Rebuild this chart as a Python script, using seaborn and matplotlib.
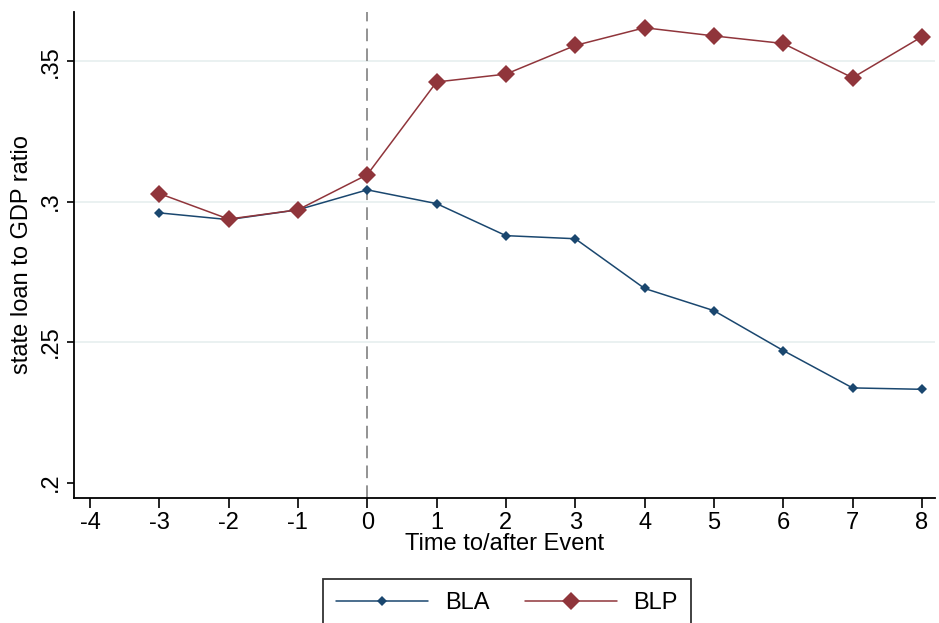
import matplotlib
matplotlib.use("Agg")
import matplotlib.pyplot as plt
import seaborn as sns
import pandas as pd

time = [-3, -2, -1, 0, 1, 2, 3, 4, 5, 6, 7, 8]
bla = [0.2960, 0.2936, 0.2971, 0.3042, 0.2993, 0.2879, 0.2868, 0.2691, 0.2612, 0.2470, 0.2337, 0.2332]
blp = [0.3029, 0.2938, 0.2971, 0.3096, 0.3426, 0.3454, 0.3556, 0.3619, 0.3590, 0.3563, 0.3441, 0.3587]
x_ticks = [-4, -3, -2, -1, 0, 1, 2, 3, 4, 5, 6, 7, 8]
y_ticks = [0.2, 0.25, 0.3, 0.35]
y_tick_labels = [".2", ".25", ".3", ".35"]

sns.set_theme(style="white")
plt.rcParams["font.family"] = ["Liberation Sans", "DejaVu Sans"]
plt.rcParams["text.color"] = "black"
plt.rcParams["axes.labelcolor"] = "black"
plt.rcParams["xtick.color"] = "black"
plt.rcParams["ytick.color"] = "black"

fig = plt.figure(figsize=(9.39, 6.23), dpi=100)
ax = fig.add_axes([0.0788, 0.2006, 0.917, 0.7801])

ax.axvline(0, color="#8a8a8a", lw=1.3, ls=(0, (7, 4)), zorder=1)

df_a = pd.DataFrame({"t": time, "v": bla})
df_p = pd.DataFrame({"t": time, "v": blp})
sns.lineplot(data=df_a, x="t", y="v", ax=ax, color="#1a476f", lw=1.1,
             marker="D", markersize=4.8, markeredgewidth=0, label="BLA", zorder=3)
sns.lineplot(data=df_p, x="t", y="v", ax=ax, color="#90353b", lw=1.1,
             marker="D", markersize=9.5, markeredgewidth=0, label="BLP", zorder=4)

ax.set_xlim(-4.23, 8.19)
ax.set_ylim(0.1945, 0.3675)
ax.set_xticks(x_ticks)
ax.set_xticklabels([str(t) for t in x_ticks])
ax.set_yticks(y_ticks)
ax.set_yticklabels(y_tick_labels, rotation=90, va="center")
ax.grid(False)
for y in y_ticks[1:]:
    ax.axhline(y, color="#e6efef", lw=1.2, zorder=0)

for s in ["top", "right"]:
    ax.spines[s].set_visible(False)
for s in ["left", "bottom"]:
    ax.spines[s].set_color("black")
    ax.spines[s].set_linewidth(1.3)

ax.tick_params(axis="x", direction="out", length=7, width=1.2, color="black",
               labelsize=17, pad=3, bottom=True, labelcolor="black")
ax.tick_params(axis="y", direction="out", length=5, width=1.2, color="black",
               labelsize=17, pad=4, left=True, labelcolor="black")
ax.set_xlabel("Time to/after Event", fontsize=17, labelpad=-1, color="black")
ax.set_ylabel("state loan to GDP ratio", fontsize=17, labelpad=5, color="black")

if ax.legend_:
    ax.legend_.remove()
handles, labels = ax.get_legend_handles_labels()
leg = fig.legend(handles, labels, loc="upper center", bbox_to_anchor=(0.540, 0.0706),
                 ncol=2, fontsize=17, frameon=True, fancybox=False, edgecolor="black",
                 handlelength=3.9, handletextpad=0.7, columnspacing=1.5,
                 borderpad=0.55, borderaxespad=0)
leg.get_frame().set_linewidth(1.3)
for t in leg.get_texts():
    t.set_color("black")

fig.savefig("out.png", dpi=100)
